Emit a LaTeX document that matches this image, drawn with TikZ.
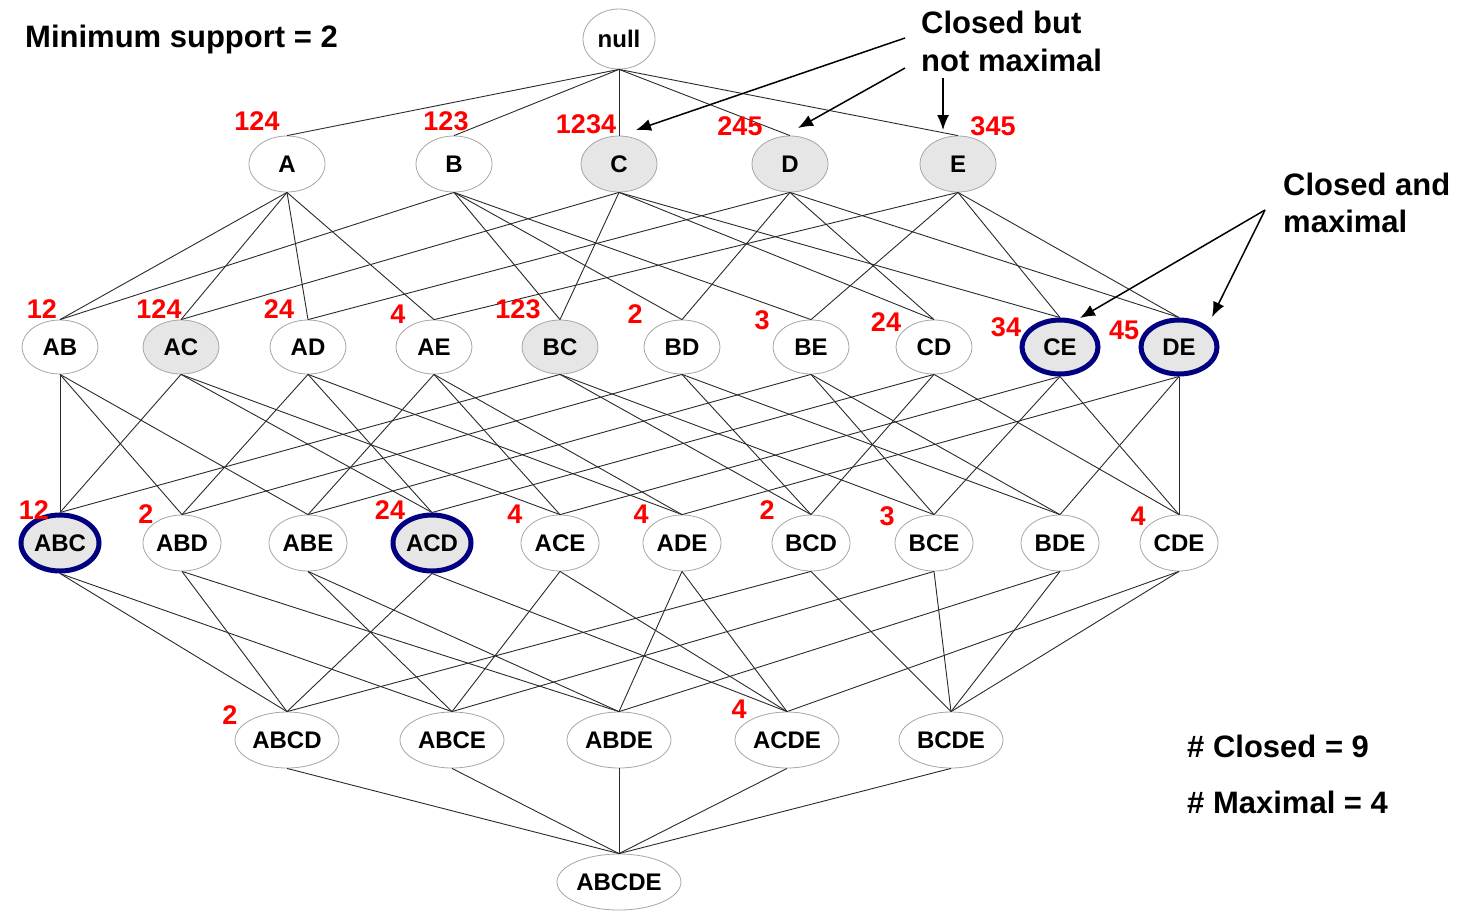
\documentclass[tikz,border=0pt]{standalone}
\usepackage{fontspec}
\setmainfont{Liberation Sans}
\usetikzlibrary{shapes.geometric,arrows.meta}
\definecolor{navyb}{HTML}{000080}
\definecolor{shadeg}{HTML}{E6E6E6}
\definecolor{redl}{HTML}{FF0000}
\definecolor{rimg}{HTML}{A6A6A6}
\definecolor{edgec}{HTML}{2A2A2A}
\begin{document}
\begin{tikzpicture}[x=1pt,y=-1pt,
  setn/.style={ellipse, draw=rimg, line width=0.8pt, fill=white, inner sep=0pt,
    minimum width=76pt, minimum height=56pt, font=\fontsize{24}{27}\selectfont\bfseries},
  closedn/.style={setn, fill=shadeg},
  maxn/.style={setn, fill=shadeg, draw=navyb, line width=5pt},
  supp/.style={text=redl, font=\fontsize{27}{29}\selectfont\bfseries, inner sep=0pt},
  notetext/.style={font=\fontsize{31}{35}\selectfont\bfseries, inner sep=0pt, anchor=base west},
  edgeline/.style={draw=edgec, line width=0.9pt},
  ptr/.style={-{Latex[length=15pt,width=12pt]}, line width=1.5pt}]
\useasboundingbox (0,0) rectangle (1463,922);

% nodes
\node[setn, minimum width=72pt, minimum height=60pt] (null) at (619,39) {null};

\node[setn] (A) at (287,164) {A};
\node[setn] (B) at (454,164) {B};
\node[closedn] (C) at (619,164) {C};
\node[closedn] (D) at (790,164) {D};
\node[closedn] (E) at (958,164) {E};

\tikzset{lvtwo/.style={minimum height=54pt}}
\node[setn,lvtwo] (AB) at (60,347) {AB};
\node[closedn,lvtwo] (AC) at (181,347) {AC};
\node[setn,lvtwo] (AD) at (308,347) {AD};
\node[setn,lvtwo] (AE) at (434,347) {AE};
\node[closedn,lvtwo] (BC) at (560,347) {BC};
\node[setn,lvtwo] (BD) at (682,347) {BD};
\node[setn,lvtwo] (BE) at (811,347) {BE};
\node[setn,lvtwo] (CD) at (934,347) {CD};
\node[maxn,lvtwo] (CE) at (1060,347) {CE};
\node[maxn,lvtwo] (DE) at (1179,347) {DE};

\tikzset{lvthree/.style={minimum width=78pt}}
\node[maxn,lvthree] (ABC) at (60,543) {ABC};
\node[setn,lvthree] (ABD) at (182,543) {ABD};
\node[setn,lvthree] (ABE) at (308,543) {ABE};
\node[maxn,lvthree] (ACD) at (432,543) {ACD};
\node[setn,lvthree] (ACE) at (560,543) {ACE};
\node[setn,lvthree] (ADE) at (682,543) {ADE};
\node[setn,lvthree] (BCD) at (811,543) {BCD};
\node[setn,lvthree] (BCE) at (934,543) {BCE};
\node[setn,lvthree] (BDE) at (1060,543) {BDE};
\node[setn,lvthree] (CDE) at (1179,543) {CDE};

\tikzset{lvfour/.style={minimum width=104pt}}
\node[setn,lvfour] (ABCD) at (287,740) {ABCD};
\node[setn,lvfour] (ABCE) at (452,740) {ABCE};
\node[setn,lvfour] (ABDE) at (619,740) {ABDE};
\node[setn,lvfour] (ACDE) at (787,740) {ACDE};
\node[setn,lvfour] (BCDE) at (951,740) {BCDE};

\node[setn, minimum width=124pt] (ABCDE) at (619,882) {ABCDE};

% edges
\foreach \c in {A,B,C,D,E} \draw[edgeline] (null.south) -- (\c.north);
\foreach \p/\c in {A/AB,A/AC,A/AD,A/AE,B/AB,B/BC,B/BD,B/BE,C/AC,C/BC,C/CD,C/CE,
  D/AD,D/BD,D/CD,D/DE,E/AE,E/BE,E/CE,E/DE}
  \draw[edgeline] (\p.south) -- (\c.north);
\foreach \p/\c in {AB/ABC,AB/ABD,AB/ABE,AC/ABC,AC/ACD,AC/ACE,AD/ABD,AD/ACD,AD/ADE,
  AE/ABE,AE/ACE,AE/ADE,BC/ABC,BC/BCD,BC/BCE,BD/ABD,BD/BCD,BD/BDE,BE/ABE,BE/BCE,BE/BDE,
  CD/ACD,CD/BCD,CD/CDE,CE/ACE,CE/BCE,CE/CDE,DE/ADE,DE/BDE,DE/CDE}
  \draw[edgeline] (\p.south) -- (\c.north);
\foreach \p/\c in {ABC/ABCD,ABC/ABCE,ABD/ABCD,ABD/ABDE,ABE/ABCE,ABE/ABDE,ACD/ABCD,ACD/ACDE,
  ACE/ABCE,ACE/ACDE,ADE/ABDE,ADE/ACDE,BCD/ABCD,BCD/BCDE,BCE/ABCE,BCE/BCDE,BDE/ABDE,BDE/BCDE,
  CDE/ACDE,CDE/BCDE}
  \draw[edgeline] (\p.south) -- (\c.north);
\foreach \p in {ABCD,ABCE,ABDE,ACDE,BCDE} \draw[edgeline] (\p.south) -- (ABCDE.north);

% support labels
\node[supp] (sA) at (257,121) {124};
\node[supp] (sB) at (446,121) {123};
\node[supp] (sC) at (586,124) {1234};
\node[supp] (sD) at (740,126) {245};
\node[supp] (sE) at (993,126) {345};
\node[supp] (sAB) at (42,309) {12};
\node[supp] (sAC) at (159,309) {124};
\node[supp] (sAD) at (279,309) {24};
\node[supp] (sAE) at (398,314) {4};
\node[supp] (sBC) at (518,309) {123};
\node[supp] (sBD) at (635,314) {2};
\node[supp] (sBE) at (762,320) {3};
\node[supp] (sCD) at (886,322) {24};
\node[supp] (sCE) at (1006,327) {34};
\node[supp] (sDE) at (1124,330) {45};
\node[supp] (sABC) at (34,510) {12};
\node[supp] (sABD) at (146,514) {2};
\node[supp] (sACD) at (390,510) {24};
\node[supp] (sACE) at (515,514) {4};
\node[supp] (sADE) at (641,514) {4};
\node[supp] (sBCD) at (767,510) {2};
\node[supp] (sBCE) at (887,516) {3};
\node[supp] (sCDE) at (1138,516) {4};
\node[supp] (sABCD) at (230,715) {2};
\node[supp] (sACDE) at (739,709) {4};

% texts
\node[notetext] (minsup) at (25,47) {Minimum support = 2};
\node[notetext] (cbn1) at (921,33) {Closed but};
\node[notetext] (cbn2) at (921,71) {not maximal};
\node[notetext] (cam1) at (1283,195) {Closed and};
\node[notetext] (cam2) at (1283,232) {maximal};
\node[notetext] (nclosed) at (1187,757) {\# Closed = 9};
\node[notetext] (nmax) at (1187,813) {\# Maximal = 4};

% pointer arrows
\coordinate (pa1) at (905,38);
\coordinate (pa2) at (905,68);
\coordinate (pa3) at (943,78);
\coordinate (tC) at (636,130);
\coordinate (tD) at (798,128);
\coordinate (tE) at (943,130);
\draw[ptr] (pa1) -- (tC);
\draw[ptr] (pa2) -- (tD);
\draw[ptr] (pa3) -- (tE);
\coordinate (pb) at (1265,210);
\coordinate (tCE) at (1080,318);
\coordinate (tDE) at (1212,317);
\draw[ptr] (pb) -- (tCE);
\draw[ptr] (pb) -- (tDE);
\end{tikzpicture}
\end{document}
